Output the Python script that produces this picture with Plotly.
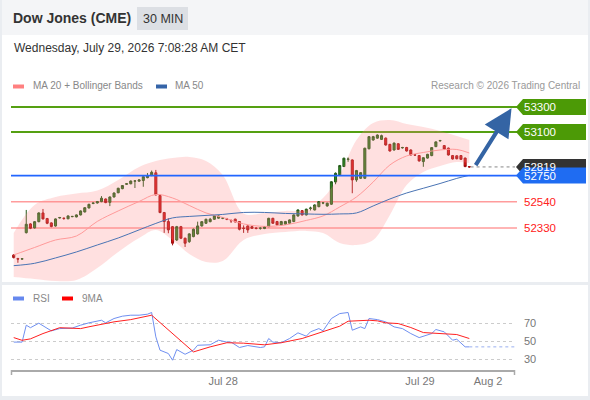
import plotly.graph_objects as go

W, H = 590, 400

# 30 min candles, plotted on a bar index
opens = [52113, 52083, 52080, 52292, 52362, 52330, 52380, 52450, 52405, 52370,
         52345, 52410, 52408, 52403, 52420, 52418, 52434, 52458, 52490, 52526,
         52530, 52541, 52562, 52535, 52578, 52612, 52645, 52680, 52684, 52705,
         52705, 52710, 52733, 52750, 52772, 52590, 52453, 52381, 52340, 52233,
         52340, 52247, 52220, 52260, 52282, 52346, 52367, 52380, 52399, 52408,
         52407, 52401, 52389, 52400, 52381, 52328, 52346, 52340, 52328, 52327,
         52325, 52340, 52407, 52381, 52354, 52360, 52367, 52381, 52426, 52468,
         52434, 52486, 52474, 52500, 52529, 52506, 52520, 52698, 52755, 52822,
         52880, 52875, 52715, 52728, 52728, 52965, 53035, 53050, 53040, 53050,
         53000, 52955, 53005, 52972, 52975, 52955, 52916, 52910, 52862, 52890,
         52910, 52982, 53028, 52990, 52970, 52910, 52908, 52910, 52890, 52822]
highs = [52120, 52090, 52088, 52474, 52368, 52385, 52455, 52482, 52410, 52375,
         52406, 52418, 52412, 52430, 52426, 52438, 52470, 52496, 52524, 52535,
         52546, 52585, 52566, 52582, 52614, 52652, 52674, 52690, 52710, 52712,
         52720, 52745, 52770, 52790, 52795, 52598, 52458, 52407, 52345, 52346,
         52346, 52252, 52287, 52325, 52380, 52385, 52404, 52410, 52432, 52430,
         52415, 52410, 52398, 52404, 52385, 52350, 52350, 52344, 52335, 52334,
         52344, 52411, 52411, 52386, 52386, 52386, 52398, 52438, 52478, 52472,
         52484, 52500, 52518, 52545, 52536, 52532, 52705, 52775, 52835, 52893,
         52895, 52880, 52795, 52778, 52973, 53066, 53068, 53080, 53078, 53055,
         53004, 53015, 53010, 52980, 52980, 52960, 52922, 52914, 52897, 52924,
         52978, 53024, 53036, 52995, 52974, 52915, 52912, 52914, 52894, 52826]
lows = [52085, 52050, 52075, 52285, 52320, 52325, 52375, 52398, 52360, 52335,
        52340, 52405, 52395, 52400, 52416, 52414, 52430, 52454, 52486, 52520,
        52525, 52536, 52528, 52505, 52574, 52608, 52640, 52676, 52680, 52650,
        52700, 52660, 52728, 52745, 52590, 52448, 52290, 52287, 52190, 52225,
        52240, 52177, 52210, 52255, 52276, 52340, 52362, 52375, 52395, 52404,
        52400, 52392, 52370, 52374, 52310, 52290, 52290, 52322, 52318, 52316,
        52320, 52336, 52362, 52350, 52350, 52356, 52362, 52376, 52420, 52430,
        52430, 52470, 52470, 52496, 52520, 52500, 52515, 52680, 52750, 52818,
        52860, 52608, 52700, 52722, 52722, 52960, 53030, 53045, 53035, 52990,
        52942, 52950, 52955, 52966, 52942, 52910, 52908, 52862, 52820, 52886,
        52905, 52978, 53022, 52958, 52910, 52878, 52880, 52875, 52817, 52812]
closes = [52092, 52080, 52082, 52359, 52327, 52380, 52450, 52402, 52367, 52341,
          52402, 52413, 52406, 52426, 52422, 52434, 52466, 52492, 52519, 52529,
          52541, 52568, 52533, 52578, 52610, 52648, 52670, 52684, 52706, 52707,
          52715, 52741, 52750, 52776, 52595, 52453, 52381, 52314, 52207, 52340,
          52247, 52207, 52282, 52319, 52346, 52380, 52399, 52399, 52426, 52426,
          52409, 52399, 52387, 52378, 52319, 52326, 52314, 52327, 52326, 52328,
          52340, 52407, 52367, 52354, 52381, 52381, 52394, 52434, 52474, 52434,
          52480, 52489, 52514, 52541, 52531, 52528, 52700, 52768, 52830, 52889,
          52882, 52715, 52790, 52773, 52969, 53062, 53062, 53075, 53070, 52995,
          52947, 53010, 52960, 52975, 52947, 52915, 52914, 52867, 52893, 52920,
          52974, 53020, 53031, 52963, 52915, 52883, 52885, 52880, 52822, 52819]
bars = list(range(len(opens)))

# moving averages and bollinger bands, read at these bars
band_bars = [0, 5, 10, 15, 20, 25, 30, 34, 38, 42, 46, 50, 55, 60, 65, 70, 74,
             78, 82, 86, 90, 94, 98, 102, 106, 109]
ma20 = [52113, 52173, 52233, 52265, 52382, 52466, 52542, 52598, 52570, 52510,
        52450, 52414, 52362, 52342, 52354, 52390, 52426, 52498, 52578, 52698,
        52835, 52907, 52935, 52955, 52959, 52931]
ma50 = [52027, 52046, 52089, 52137, 52193, 52249, 52314, 52366, 52410, 52422,
        52430, 52438, 52454, 52454, 52446, 52442, 52439, 52442, 52450, 52506,
        52562, 52610, 52648, 52686, 52727, 52752]
bb_upper = [52289, 52514, 52578, 52606, 52630, 52715, 52819, 52867, 52891, 52899,
            52867, 52755, 52446, 52450, 52466, 52474, 52570, 52755, 53035, 53172,
            53196, 53164, 53140, 53108, 53068, 53035]
bb_lower = [51937, 51921, 51905, 51913, 52009, 52137, 52249, 52314, 52233, 52121,
            52057, 52065, 52233, 52281, 52297, 52306, 52289, 52209, 52193, 52233,
            52434, 52674, 52779, 52827, 52859, 52851]

# RSI and its 9 period average
rsi_bars = [0, 2, 3, 4, 6, 8, 9, 11, 14, 16, 18, 21, 22, 24, 26, 28, 30, 32, 33, 34,
            35, 37, 38, 39, 40, 41, 43, 44, 47, 49, 51, 52, 54, 56, 59, 60, 61, 62,
            64, 66, 68, 70, 71, 73, 74, 76, 78, 80, 81, 83, 84, 85, 87, 89, 91, 93,
            95, 97, 100, 101, 103, 105, 106, 108, 109]
rsi = [49, 49, 67.8, 65, 70, 64, 61.5, 64, 64.6, 67.8, 70.4, 73.3, 70.4, 75.2, 77.8,
       78.9, 78.9, 80, 81.9, 54.8, 40, 36.3, 28.9, 40.7, 38.5, 35.5, 40, 45.5, 46,
       51.1, 49, 49, 43, 45.2, 43, 43.7, 53, 49, 48.3, 53, 59.3, 55.6, 60.4, 64,
       61.5, 75.2, 80.7, 81.9, 62.2, 65.9, 64, 75.2, 74, 71.5, 65.9, 64, 58.5, 54,
       58.5, 63, 60.4, 51.1, 52.2, 43.7, 43.7]
ma9_bars = [0, 2, 4, 7, 11, 16, 18, 24, 28, 33, 43, 44, 47, 51, 55, 60, 64, 69, 73,
            78, 80, 85, 87, 89, 92, 95, 98, 102, 106, 109]
ma9 = [54, 51, 52.6, 58.5, 65, 64, 66, 71.5, 74, 78.9, 38.1, 39.6, 43.7, 48.3, 47.8,
       46, 48.3, 53, 59.3, 66.7, 72.2, 73.3, 72.6, 70.4, 69.6, 65.2, 59.6, 58.5,
       57.4, 53]

# key levels
resistances = [53300, 53100]
pivot = 52750
supports = [52540, 52330]
last_price = 52819
target = 53300

tick_bars = [50.1, 97.2, 113.5]
tick_text = ["Jul 28", "Jul 29", "Aug 2"]
rsi_ticks = [30, 50, 70]

X_RANGE = [-0.65, 119.93]


def px(x):
    return x / W


def py(y):
    return 1 - y / H


fig = go.Figure()

fig.add_trace(go.Scatter(x=band_bars, y=bb_upper, mode="lines", line=dict(width=0, shape="spline"),
                         hoverinfo="skip", showlegend=False))
fig.add_trace(go.Scatter(x=band_bars, y=bb_lower, mode="lines", line=dict(width=0, shape="spline"),
                         fill="tonexty", fillcolor="rgba(255,130,130,0.25)",
                         hoverinfo="skip", showlegend=False))
fig.add_trace(go.Scatter(x=band_bars, y=ma20, mode="lines", line=dict(color="#ff9a9a", width=1, shape="spline"),
                         showlegend=False))
fig.add_trace(go.Scatter(x=band_bars, y=ma50, mode="lines", line=dict(color="#4a74b4", width=1, shape="spline"),
                         showlegend=False))
fig.add_trace(go.Candlestick(
    x=bars, open=opens, high=highs, low=lows, close=closes,
    increasing=dict(line=dict(color="#245a1a", width=1), fillcolor="#2f8a22"),
    decreasing=dict(line=dict(color="#a01010", width=1), fillcolor="#e41414"),
    whiskerwidth=0, showlegend=False))

# dotted projections to the price tags
fig.add_trace(go.Scatter(x=[bars[-1] + 0.3, X_RANGE[1]], y=[last_price, last_price], mode="lines",
                         line=dict(color="#888888", width=1, dash="dot"), showlegend=False))
fig.add_trace(go.Scatter(x=[bars[-1] + 0.3, X_RANGE[1]], y=[pivot, pivot], mode="lines",
                         line=dict(color="#7a96d0", width=1, dash="dot"), showlegend=False))

# RSI panel
fig.add_trace(go.Scatter(x=rsi_bars, y=rsi, mode="lines", line=dict(color="#6f8ff0", width=1),
                         xaxis="x2", yaxis="y2", showlegend=False))
fig.add_trace(go.Scatter(x=[rsi_bars[-1], X_RANGE[1]], y=[rsi[-1], rsi[-1]], mode="lines",
                         line=dict(color="#9ab0f0", width=1, dash="dot"),
                         xaxis="x2", yaxis="y2", showlegend=False))
fig.add_trace(go.Scatter(x=ma9_bars, y=ma9, mode="lines", line=dict(color="#ff2020", width=1),
                         xaxis="x2", yaxis="y2", showlegend=False))

shapes = [
    # frame / header backgrounds
    dict(type="rect", xref="paper", yref="paper", x0=0, x1=1, y0=py(35), y1=1,
         fillcolor="#f4f5f7", line_width=0, layer="below"),
    dict(type="rect", xref="paper", yref="paper", x0=px(137), x1=px(188), y0=py(30), y1=py(7),
         fillcolor="#dcdfe4", line_width=0, layer="below"),
    dict(type="rect", xref="paper", yref="paper", x0=0, x1=1, y0=py(285), y1=py(282),
         fillcolor="#eaedf1", line_width=0, layer="below"),
    dict(type="rect", xref="paper", yref="paper", x0=0, x1=1, y0=0, y1=py(396),
         fillcolor="#eaedf1", line_width=0, layer="below"),
    dict(type="rect", xref="paper", yref="paper", x0=0, x1=px(2), y0=0, y1=1,
         fillcolor="#eaedf1", line_width=0, layer="below"),
    dict(type="rect", xref="paper", yref="paper", x0=px(588), x1=1, y0=0, y1=1,
         fillcolor="#eaedf1", line_width=0, layer="below"),
    # legend swatches
    dict(type="rect", xref="paper", yref="paper", x0=px(13), x1=px(24), y0=py(88.5), y1=py(84.5),
         fillcolor="#ff8080", line_width=0),
    dict(type="rect", xref="paper", yref="paper", x0=px(156), x1=px(167), y0=py(88.5), y1=py(84.5),
         fillcolor="#3564a8", line_width=0),
    dict(type="rect", xref="paper", yref="paper", x0=px(13), x1=px(24), y0=py(300.5), y1=py(296.5),
         fillcolor="#6688ee", line_width=0),
    dict(type="rect", xref="paper", yref="paper", x0=px(62), x1=px(73), y0=py(300.5), y1=py(296.5),
         fillcolor="#ff0000", line_width=0),
    # time axis end ticks
    dict(type="line", xref="paper", yref="paper", x0=px(11.5), x1=px(11.5), y0=py(370), y1=py(375),
         line=dict(color="#aaaaaa", width=1.5)),
    dict(type="line", xref="paper", yref="paper", x0=px(514.5), x1=px(514.5), y0=py(370), y1=py(375),
         line=dict(color="#aaaaaa", width=1.5)),
]

line_x0, line_x1 = px(11), px(517)
for lv in resistances:
    shapes.append(dict(type="line", xref="paper", yref="y", x0=line_x0, x1=line_x1, y0=lv, y1=lv,
                       line=dict(color="#55a012", width=2), layer="below"))
for lv in supports:
    shapes.append(dict(type="line", xref="paper", yref="y", x0=line_x0, x1=line_x1, y0=lv, y1=lv,
                       line=dict(color="#ff9c9c", width=1.5), layer="below"))
shapes.append(dict(type="line", xref="paper", yref="y", x0=line_x0, x1=line_x1, y0=pivot, y1=pivot,
                   line=dict(color="#2266ff", width=1.8), layer="above"))

# price tags (arrow shaped boxes) on the right
unit = (53396 - 51888) / 188.0  # price per pixel


def tag(level, color, half=8):
    top, bot = level + half * unit, level - half * unit
    a, b, c = px(516), px(523), px(586)
    path = f"M {a},{level} L {b},{top} L {c},{top} L {c},{bot} L {b},{bot} Z"
    return dict(type="path", xref="paper", yref="y", path=path, fillcolor=color, line_width=0)


for lv in resistances:
    shapes.append(tag(lv, "#4c9a06"))
shapes.append(tag(last_price, "#333333"))
shapes.append(tag(pivot, "#1f6cf2"))

annotations = [
    dict(text="<b>Dow Jones (CME)</b>", x=px(11), y=py(18), xanchor="left", yanchor="middle",
         font=dict(size=14, color="#333333")),
    dict(text="30 MIN", x=px(162.5), y=py(18.5), xanchor="center", yanchor="middle",
         font=dict(size=12.5, color="#333333")),
    dict(text="Wednesday, July 29, 2026 7:08:28 AM CET", x=px(12), y=py(48), xanchor="left",
         yanchor="middle", font=dict(size=12, color="#333333")),
    dict(text="MA 20 + Bollinger Bands", x=px(31), y=py(86), xanchor="left", yanchor="middle",
         font=dict(size=10, color="#888888")),
    dict(text="MA 50", x=px(173), y=py(86), xanchor="left", yanchor="middle",
         font=dict(size=10, color="#888888")),
    dict(text="Research © 2026 Trading Central", x=px(582), y=py(86), xanchor="right",
         yanchor="middle", font=dict(size=10, color="#999999")),
    dict(text="RSI", x=px(31), y=py(298.5), xanchor="left", yanchor="middle",
         font=dict(size=10, color="#888888")),
    dict(text="9MA", x=px(80), y=py(298.5), xanchor="left", yanchor="middle",
         font=dict(size=10, color="#888888")),
]
for a in annotations:
    a.update(xref="paper", yref="paper", showarrow=False)

for lv in resistances + [last_price, pivot]:
    annotations.append(dict(text=str(lv), x=px(522), y=lv, xref="paper", yref="y", xanchor="left",
                            yanchor="middle", showarrow=False, font=dict(size=11.5, color="#ffffff")))
for lv in supports:
    annotations.append(dict(text=str(lv), x=px(522), y=lv, xref="paper", yref="y", xanchor="left",
                            yanchor="middle", showarrow=False, font=dict(size=11.5, color="#ff2020")))

# target arrow
annotations.append(dict(text="", x=119.1, y=target - 10, xref="x", yref="y",
                        ax=bars[-1] + 1.3, ay=last_price + 2, axref="x", ayref="y",
                        showarrow=True, arrowhead=2, arrowsize=1.4, arrowwidth=4,
                        arrowcolor="#3464a4"))

fig.update_layout(
    width=W, height=H, autosize=False,
    margin=dict(l=0, r=0, t=0, b=0),
    paper_bgcolor="#ffffff", plot_bgcolor="rgba(0,0,0,0)",
    font=dict(family="Liberation Sans, Arial, sans-serif", color="#333333"),
    showlegend=False,
    xaxis=dict(domain=[px(11), px(515)], range=X_RANGE, anchor="y", visible=False,
               rangeslider=dict(visible=False), fixedrange=True),
    yaxis=dict(domain=[py(283), py(95)], range=[51888, 53396], anchor="x", visible=False),
    xaxis2=dict(domain=[px(11), px(515)], range=X_RANGE, anchor="y2", showgrid=False, zeroline=False,
                showline=True, linecolor="#aaaaaa", linewidth=1.5, ticks="",
                tickvals=tick_bars, ticktext=tick_text, tickfont=dict(size=11, color="#777777")),
    yaxis2=dict(domain=[py(370), py(309.7)], range=[18, 85], anchor="x2", side="right",
                tickvals=rsi_ticks, showgrid=True, gridcolor="#cccccc", griddash="dot", gridwidth=1,
                zeroline=False, showline=False, ticks="", ticklabelstandoff=8,
                tickfont=dict(size=11, color="#777777")),
    shapes=shapes,
    annotations=annotations,
)

fig.write_html("out.html", config={"displayModeBar": False},
               post_script="document.body.style.margin='0px';")
